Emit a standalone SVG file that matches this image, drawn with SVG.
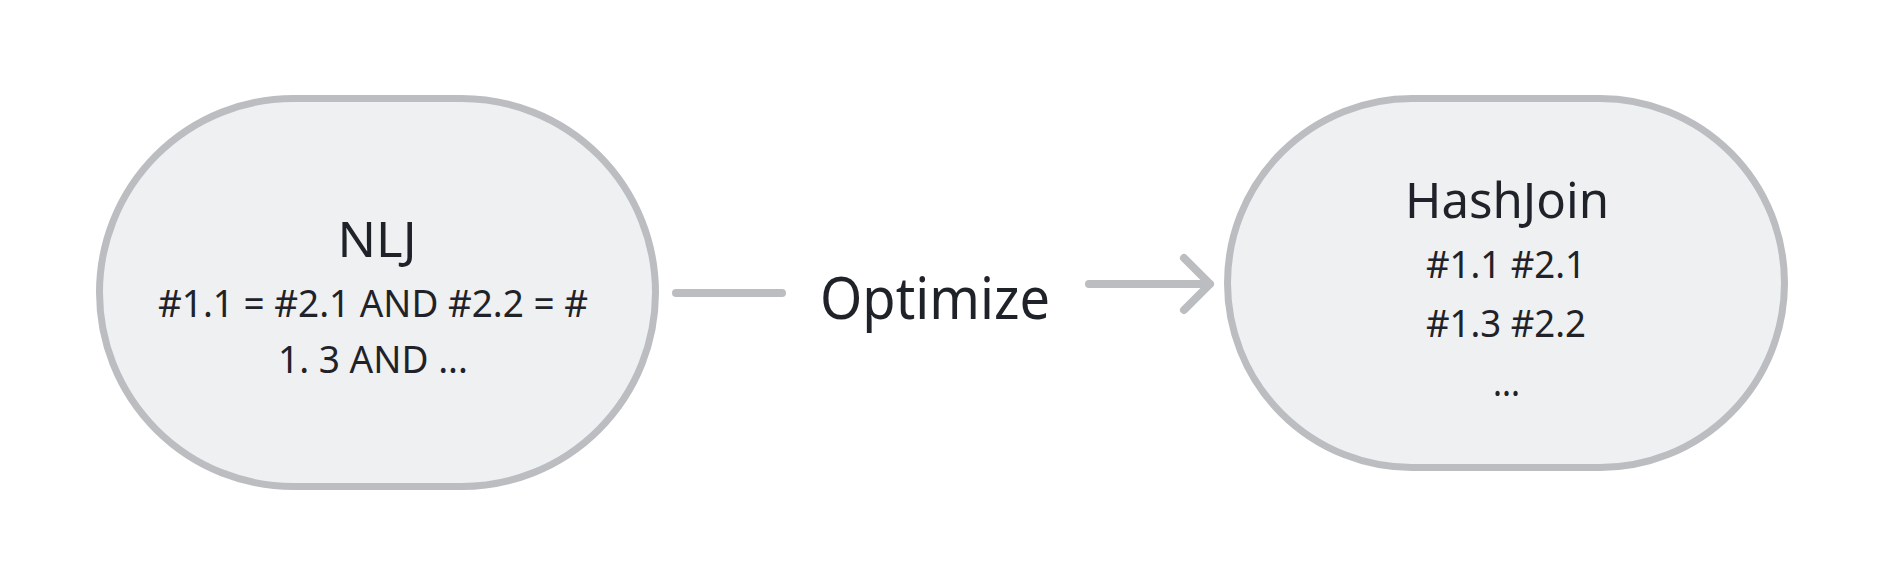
<svg xmlns="http://www.w3.org/2000/svg" width="1888" height="588" viewBox="0 0 1888 588">
<style>
.node{fill:#eff0f2;stroke:#bbbdc1;stroke-width:7}
.t{font-family:"Noto Sans","Liberation Sans",sans-serif;fill:#1f2329;text-anchor:middle}
.title{font-size:49px}
.line{font-size:39px}
.lbl{font-size:58px}
.conn{fill:none;stroke:#bbbdc1;stroke-width:8;stroke-linecap:round;stroke-linejoin:round}
</style>
<rect width="1888" height="588" fill="#ffffff"/>
<g id="nlj">
<rect class="node" x="99.5" y="98.5" width="556" height="388" rx="194" ry="194"/>
<text class="t title" x="377" y="257" textLength="79" lengthAdjust="spacingAndGlyphs">NLJ</text>
<text class="t line" x="373" y="317" textLength="430" lengthAdjust="spacingAndGlyphs">#1.1 = #2.1 AND #2.2 = #</text>
<text class="t line" x="373" y="373" textLength="190" lengthAdjust="spacingAndGlyphs">1. 3 AND ...</text>
</g>
<g id="hashjoin">
<rect class="node" x="1227.5" y="98.5" width="557" height="369" rx="184.5" ry="184.5"/>
<text class="t title" x="1507" y="218" textLength="204" lengthAdjust="spacingAndGlyphs">HashJoin</text>
<text class="t line" x="1506" y="278" textLength="160" lengthAdjust="spacingAndGlyphs">#1.1 #2.1</text>
<text class="t line" x="1506" y="337" textLength="160" lengthAdjust="spacingAndGlyphs">#1.3 #2.2</text>
<text class="t line" x="1506.5" y="396" textLength="27" lengthAdjust="spacingAndGlyphs">...</text>
</g>
<g id="connectors">
<path class="conn" d="M676 293 H782"/>
<path class="conn" d="M1089 284 H1210 M1184 258 L1210 284 L1184 310"/>
<text class="t lbl" x="935" y="319" textLength="230" lengthAdjust="spacingAndGlyphs">Optimize</text>
</g>
</svg>
